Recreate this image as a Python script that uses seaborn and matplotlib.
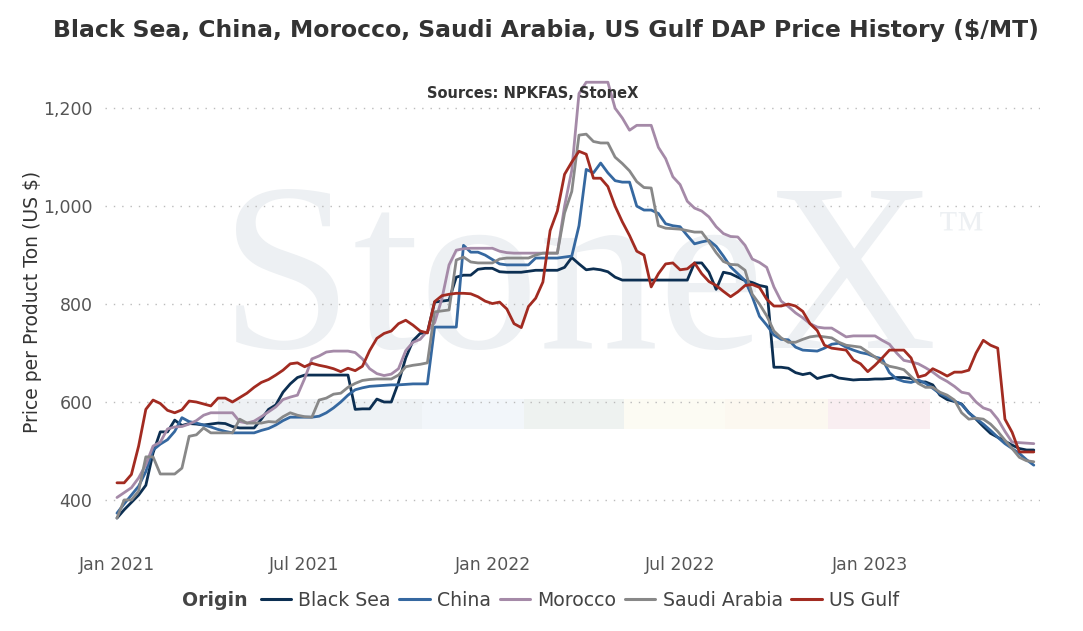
import pandas as pd
import seaborn as sns
import matplotlib.pyplot as plt
import matplotlib.dates as mdates
from matplotlib.lines import Line2D
from matplotlib.patches import Rectangle
from matplotlib.ticker import FuncFormatter

# weekly DAP prices ($/MT)
dates = pd.date_range("2021-01-01", periods=128, freq="7D")

black_sea = [
    363, 380, 395, 410, 430, 496, 539, 539, 563, 552, 556, 555, 553, 555, 557, 556,
    550, 547, 547, 547, 565, 585, 594, 620, 637, 650, 655, 655, 655, 655, 655, 655,
    655, 585, 586, 586, 606, 600, 600, 640, 690, 725, 740, 742, 804, 806, 808, 855,
    859, 859, 871, 873, 873, 866, 865, 865, 865, 867, 869, 869, 869, 869, 875, 895,
    882, 870, 872, 870, 866, 855, 849, 849, 849, 849, 849, 849, 849, 849, 849, 849,
    884, 884, 865, 830, 865, 862, 855, 848, 844, 838, 835, 671, 671, 669, 660, 656,
    659, 648, 652, 655, 649, 647, 645, 646, 646, 647, 647, 648, 650, 650, 648, 641,
    641, 635, 614, 605, 601, 596, 578, 565, 550, 536, 528, 520, 512, 505, 502, 502]

china = [
    373, 392, 410, 428, 458, 502, 514, 523, 540, 568, 560, 557, 553, 549, 544, 540,
    537, 537, 537, 537, 542, 546, 553, 562, 569, 569, 569, 569, 571, 578, 588, 600,
    614, 625, 629, 632, 633, 634, 635, 635, 636, 637, 637, 637, 753, 753, 753, 753,
    920, 906, 906, 900, 891, 882, 880, 880, 880, 880, 894, 894, 894, 894, 896, 898,
    960, 1075, 1068, 1088, 1068, 1052, 1049, 1049, 1000, 992, 992, 985, 964, 960, 958, 940,
    923, 927, 930, 918, 898, 876, 862, 848, 815, 775, 757, 737, 728, 727, 712, 706,
    705, 704, 710, 718, 720, 712, 706, 701, 698, 692, 688, 660, 647, 642, 640, 645,
    638, 628, 617, 610, 602, 595, 578, 566, 555, 542, 528, 515, 505, 495, 482, 471]

morocco = [
    405, 415, 425, 445, 472, 510, 518, 545, 549, 550, 555, 562, 573, 578, 578, 578,
    578, 560, 557, 561, 570, 580, 590, 605, 610, 614, 648, 688, 694, 702, 704, 704,
    704, 701, 688, 668, 658, 654, 657, 668, 705, 722, 728, 745, 762, 810, 880, 910,
    913, 914, 914, 914, 914, 908, 905, 904, 904, 904, 904, 904, 904, 904, 1000, 1073,
    1230, 1253, 1253, 1253, 1253, 1200, 1180, 1155, 1165, 1165, 1165, 1120, 1097, 1060, 1044, 1010,
    996, 990, 978, 958, 944, 938, 937, 920, 892, 885, 875, 835, 806, 795, 782, 772,
    760, 753, 751, 751, 742, 733, 735, 735, 735, 735, 726, 718, 700, 685, 682, 678,
    670, 661, 650, 642, 632, 620, 617, 600, 588, 583, 565, 540, 518, 517, 516, 515]

saudi_arabia = [
    363, 400, 400, 418, 488, 488, 453, 453, 453, 465, 530, 533, 547, 537, 537, 537,
    537, 565, 557, 557, 557, 560, 559, 570, 578, 573, 570, 569, 604, 608, 616, 618,
    630, 638, 644, 646, 647, 647, 647, 655, 672, 675, 677, 680, 784, 786, 788, 890,
    896, 886, 884, 884, 884, 892, 894, 894, 894, 894, 900, 904, 904, 904, 986, 1030,
    1145, 1147, 1132, 1129, 1129, 1100, 1087, 1072, 1050, 1038, 1037, 960, 955, 954, 953, 950,
    947, 947, 927, 905, 887, 881, 880, 869, 820, 800, 776, 745, 731, 722, 722, 728,
    733, 735, 733, 731, 722, 716, 714, 712, 702, 692, 680, 673, 670, 666, 652, 638,
    630, 630, 620, 614, 604, 578, 565, 567, 565, 555, 540, 522, 505, 487, 480, 478]

us_gulf = [
    435, 435, 452, 510, 585, 604, 597, 583, 578, 584, 602, 600, 596, 592, 608, 608,
    600, 609, 618, 630, 640, 646, 655, 665, 678, 680, 672, 679, 675, 672, 668, 662,
    669, 664, 673, 705, 730, 740, 745, 760, 767, 757, 745, 741, 805, 817, 820, 822,
    822, 821, 815, 806, 801, 804, 790, 760, 752, 795, 812, 845, 950, 990, 1065, 1090,
    1112, 1106, 1057, 1057, 1040, 1000, 968, 940, 908, 900, 835, 862, 882, 884, 870, 872,
    884, 862, 846, 838, 826, 815, 825, 838, 840, 834, 810, 796, 796, 800, 796, 785,
    760, 746, 716, 710, 708, 706, 686, 678, 662, 675, 690, 706, 706, 706, 690, 651,
    655, 668, 661, 653, 661, 661, 665, 700, 726, 716, 710, 565, 538, 498, 498, 498]

origins = ["Black Sea", "China", "Morocco", "Saudi Arabia", "US Gulf"]
colors = ["#0c2f52", "#3568a0", "#a58aa8", "#888888", "#a22b21"]
series = [black_sea, china, morocco, saudi_arabia, us_gulf]

df = pd.concat(
    [pd.DataFrame({"date": dates, "price": s, "Origin": o}) for o, s in zip(origins, series)],
    ignore_index=True)

sns.set_style("white")
plt.rcParams["font.family"] = ["DejaVu Sans"]

W, H = 1083, 631
fig = plt.figure(figsize=(W / 100, H / 100), dpi=100)
ax = fig.add_axes([105 / W, 1 - 545 / H, 935 / W, 475 / H])

# watermark: StoneX logo with coloured strip
ax.text(220 / W, 1 - 348 / H, "StoneX", transform=fig.transFigure, family="Liberation Serif",
        fontsize=172, color="#edf0f3", ha="left", va="baseline", zorder=0)
ax.text(938 / W, 1 - 243 / H, "\u2122", transform=fig.transFigure, family="Liberation Serif",
        fontsize=34, color="#edf0f3", ha="left", va="baseline", zorder=0)
strip = ["#eef1f4", "#eef2f5", "#f2f6fa", "#eef2f0", "#fcfbf3", "#fcf8f0", "#f9eef1"]
edges = [218, 320, 422, 524, 624, 725, 828, 930]
for i, c in enumerate(strip):
    ax.add_patch(Rectangle((edges[i] / W, 1 - 429 / H), (edges[i + 1] - edges[i]) / W, 30 / H,
                           transform=fig.transFigure, color=c, zorder=0, lw=0))

sns.lineplot(data=df, x="date", y="price", hue="Origin", hue_order=origins,
             palette=colors, linewidth=2.0, legend=False, ax=ax, zorder=3)

ax.set_xlim(dates[0] - pd.Timedelta(days=11.6), dates[0] + pd.Timedelta(days=895))
ax.set_ylim(308, 1278)
ax.set_yticks([400, 600, 800, 1000, 1200])
ax.yaxis.set_major_formatter(FuncFormatter(lambda v, p: f"{v:,.0f}"))
ax.xaxis.set_major_locator(mdates.MonthLocator(bymonth=[1, 7]))
ax.xaxis.set_major_formatter(mdates.DateFormatter("%b %Y"))
ax.tick_params(axis="both", length=0, labelsize=12.5, labelcolor="#555555")
ax.tick_params(axis="x", pad=8)
ax.tick_params(axis="y", pad=9)
ax.set_xlabel("")
ax.set_ylabel("")
ax.yaxis.grid(True, linestyle=(0, (1, 5)), color="#bbbbbb", linewidth=1)
ax.xaxis.grid(False)
ax.set_axisbelow(True)
for sp in ax.spines.values():
    sp.set_visible(False)
ax.patch.set_alpha(0)

fig.text(546 / W, 1 - 30 / H, "Black Sea, China, Morocco, Saudi Arabia, US Gulf DAP Price History ($/MT)",
         ha="center", va="center", fontsize=16.9, weight="bold", color="#333333")
fig.text(533 / W, 1 - 93 / H, "Sources: NPKFAS, StoneX", ha="center", va="center",
         fontsize=10.5, weight="bold", color="#333333")
fig.text(33 / W, 1 - 302 / H, "Price per Product Ton (US $)", rotation=90, ha="center",
         va="center", fontsize=13.5, color="#333333")

handles = [Line2D([], [], color=c, lw=2.2) for c in colors]
fig.legend(handles, origins, loc="center", bbox_to_anchor=(580 / W, 1 - 600 / H), ncol=5,
           frameon=False, fontsize=13.6, handlelength=1.6, handletextpad=0.4,
           columnspacing=0.45, labelcolor="#444444")
fig.text(248 / W, 1 - 600 / H, "Origin", ha="right", va="center", fontsize=13.6,
         weight="bold", color="#444444")

fig.savefig("out.png", dpi=100)
